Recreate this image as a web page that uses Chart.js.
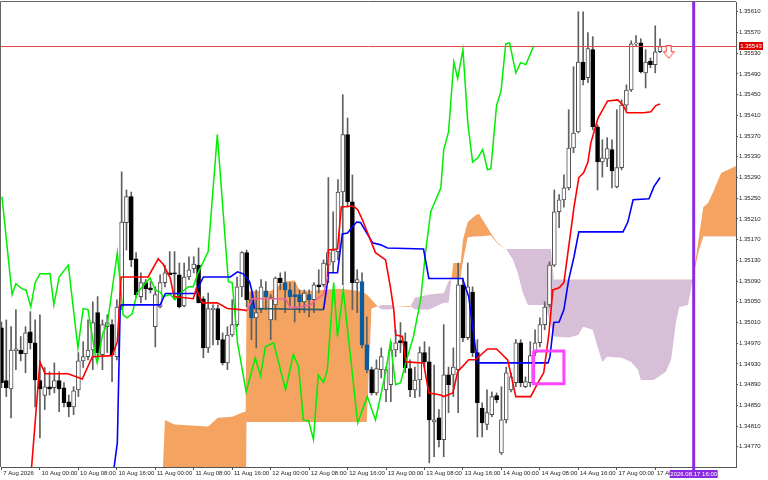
<!DOCTYPE html>
<html>
<head>
<meta charset="utf-8">
<script src="https://cdn.jsdelivr.net/npm/chart.js@4.4.1/dist/chart.umd.min.js"></script>
<style>
  html, body { margin: 0; padding: 0; background: #fff; }
  #wrap { width: 768px; height: 480px; position: relative; }
</style>
</head>
<body>
<div id="wrap"><canvas id="chart"></canvas></div>
<script>
// H1 bars, index 0 = 7 Aug 16:00
const open = [
  1.35000, 1.34898, 1.34882, 1.34955, 1.34957, 1.34950, 1.34992, 1.34971, 1.34898, 1.34869,
  1.34886, 1.34884, 1.34898, 1.34884, 1.34857, 1.34847, 1.34880, 1.34936, 1.34944, 1.34957,
  1.35029, 1.34948, 1.35002, 1.35006, 1.34944, 1.35040, 1.35203, 1.35253, 1.35133, 1.35060,
  1.35087, 1.35077, 1.35002, 1.35040, 1.35087, 1.35106, 1.35106, 1.35102, 1.35042, 1.35098,
  1.35114, 1.35121, 1.35056, 1.34961, 1.35035, 1.35037, 1.34977, 1.34932, 1.34986, 1.35006,
  1.35079, 1.35145, 1.35054, 1.35019, 1.35035, 1.35071, 1.35015, 1.35044, 1.35096, 1.35087,
  1.35073, 1.35064, 1.35064, 1.35050, 1.35064, 1.35054, 1.35083, 1.35083, 1.35121, 1.35127,
  1.35147, 1.35262, 1.35373, 1.35243, 1.35087, 1.35089, 1.34967, 1.34919, 1.34874, 1.34919,
  1.34880, 1.34890, 1.34957, 1.34975, 1.34973, 1.34921, 1.34880, 1.34899, 1.34952, 1.34934,
  1.34818, 1.34826, 1.34784, 1.34909, 1.34909, 1.34919, 1.35083, 1.34981, 1.35069, 1.34952,
  1.34845, 1.34813, 1.34832, 1.34869, 1.34758, 1.34822, 1.34880, 1.34894, 1.34971, 1.34886,
  1.34894, 1.34952, 1.34971, 1.35006, 1.35044, 1.35121, 1.35224, 1.35247, 1.35270, 1.35347,
  1.35378, 1.35513, 1.35483, 1.35537, 1.35388, 1.35320, 1.35326, 1.35344, 1.35272, 1.35309,
  1.35430, 1.35459, 1.35548, 1.35550, 1.35492, 1.35515, 1.35508, 1.35533
]
const high = [
  1.35011, 1.35015, 1.35002, 1.35035, 1.34983, 1.35002, 1.35031, 1.35015, 1.35025, 1.34923,
  1.34915, 1.34932, 1.34915, 1.34894, 1.34870, 1.34886, 1.34952, 1.34973, 1.35015, 1.35050,
  1.35060, 1.35015, 1.35025, 1.35015, 1.35054, 1.35301, 1.35266, 1.35262, 1.35145, 1.35106,
  1.35093, 1.35089, 1.35079, 1.35102, 1.35121, 1.35147, 1.35147, 1.35125, 1.35125, 1.35137,
  1.35137, 1.35154, 1.35060, 1.35067, 1.35044, 1.35044, 1.34990, 1.35002, 1.35054, 1.35098,
  1.35147, 1.35150, 1.35067, 1.35073, 1.35093, 1.35089, 1.35064, 1.35098, 1.35106, 1.35108,
  1.35087, 1.35087, 1.35073, 1.35073, 1.35073, 1.35087, 1.35112, 1.35131, 1.35290, 1.35224,
  1.35286, 1.35450, 1.35405, 1.35295, 1.35112, 1.35106, 1.35021, 1.34924, 1.34938, 1.34961,
  1.34924, 1.34973, 1.34996, 1.35010, 1.34990, 1.34938, 1.34924, 1.34963, 1.34973, 1.34963,
  1.34928, 1.34842, 1.35006, 1.34924, 1.34961, 1.35125, 1.35096, 1.35125, 1.35079, 1.34977,
  1.34855, 1.34880, 1.34876, 1.34874, 1.34886, 1.34924, 1.34913, 1.34977, 1.34977, 1.34905,
  1.34973, 1.34996, 1.35019, 1.35050, 1.35127, 1.35266, 1.35257, 1.35295, 1.35421, 1.35504,
  1.35610, 1.35610, 1.35570, 1.35562, 1.35392, 1.35363, 1.35367, 1.35363, 1.35421, 1.35440,
  1.35469, 1.35554, 1.35564, 1.35558, 1.35537, 1.35521, 1.35583, 1.35558
]
const low = [
  1.34884, 1.34867, 1.34826, 1.34919, 1.34936, 1.34913, 1.34959, 1.34847, 1.34787, 1.34842,
  1.34870, 1.34874, 1.34838, 1.34847, 1.34828, 1.34832, 1.34867, 1.34923, 1.34938, 1.34919,
  1.34938, 1.34919, 1.34952, 1.34896, 1.34938, 1.35035, 1.35150, 1.35118, 1.35058, 1.35048,
  1.35054, 1.35067, 1.34963, 1.35038, 1.35079, 1.35102, 1.35054, 1.35038, 1.35040, 1.35093,
  1.35106, 1.35048, 1.34942, 1.34952, 1.34967, 1.34967, 1.34928, 1.34919, 1.34983, 1.35002,
  1.35060, 1.35040, 1.34977, 1.34961, 1.35029, 1.35035, 1.34977, 1.35015, 1.35073, 1.35029,
  1.35040, 1.35011, 1.35029, 1.35029, 1.35021, 1.35029, 1.35067, 1.35079, 1.35087, 1.35106,
  1.35131, 1.35083, 1.35233, 1.35035, 1.35029, 1.34961, 1.34913, 1.34870, 1.34870, 1.34903,
  1.34857, 1.34857, 1.34944, 1.34952, 1.34913, 1.34867, 1.34865, 1.34867, 1.34924, 1.34739,
  1.34751, 1.34770, 1.34751, 1.34836, 1.34867, 1.34836, 1.34973, 1.34977, 1.34944, 1.34789,
  1.34789, 1.34803, 1.34828, 1.34855, 1.34755, 1.34816, 1.34876, 1.34886, 1.34886, 1.34884,
  1.34886, 1.34946, 1.34963, 1.34996, 1.35040, 1.35118, 1.35193, 1.35233, 1.35266, 1.35338,
  1.35376, 1.35469, 1.35473, 1.35382, 1.35266, 1.35291, 1.35311, 1.35270, 1.35270, 1.35305,
  1.35421, 1.35456, 1.35544, 1.35492, 1.35463, 1.35502, 1.35492, 1.35531
]
const close = [
  1.34894, 1.34884, 1.34957, 1.34959, 1.34950, 1.34990, 1.34971, 1.34899, 1.34882, 1.34886,
  1.34882, 1.34898, 1.34882, 1.34855, 1.34847, 1.34878, 1.34936, 1.34944, 1.34957, 1.35010,
  1.34952, 1.35006, 1.35010, 1.34948, 1.35040, 1.35204, 1.35253, 1.35131, 1.35064, 1.35087,
  1.35075, 1.35073, 1.35064, 1.35087, 1.35106, 1.35102, 1.35104, 1.35040, 1.35098, 1.35112,
  1.35123, 1.35048, 1.34961, 1.35037, 1.35038, 1.34977, 1.34932, 1.34986, 1.35006, 1.35079,
  1.35145, 1.35054, 1.35019, 1.35029, 1.35079, 1.35060, 1.35058, 1.35096, 1.35087, 1.35073,
  1.35060, 1.35060, 1.35050, 1.35067, 1.35054, 1.35083, 1.35079, 1.35125, 1.35145, 1.35150,
  1.35262, 1.35373, 1.35243, 1.35087, 1.35093, 1.34967, 1.34919, 1.34874, 1.34921, 1.34944,
  1.34919, 1.34957, 1.34971, 1.34971, 1.34923, 1.34880, 1.34899, 1.34952, 1.34934, 1.34822,
  1.34822, 1.34784, 1.34909, 1.34890, 1.34924, 1.35083, 1.34981, 1.35079, 1.34952, 1.34855,
  1.34816, 1.34836, 1.34867, 1.34861, 1.34822, 1.34913, 1.34905, 1.34971, 1.34894, 1.34896,
  1.34946, 1.34971, 1.35006, 1.35040, 1.35121, 1.35224, 1.35247, 1.35270, 1.35347, 1.35376,
  1.35513, 1.35479, 1.35539, 1.35388, 1.35320, 1.35328, 1.35346, 1.35303, 1.35309, 1.35430,
  1.35459, 1.35548, 1.35550, 1.35494, 1.35513, 1.35508, 1.35533, 1.35543
]
// bearish bars whose body sits inside the orange cloud (drawn inverted)
const invertedBars = [52, 55, 59, 60, 61, 62, 64, 75, 76]

// Ichimoku lines, vertices (bar index, price)
const tenkanX = [6.0, 8.0, 9.1, 13.85, 16.8, 18.9, 23.0, 24.1, 24.9, 30.5, 32.6, 33.6, 35.1, 35.9, 39.9, 40.5, 41.8, 44.9, 47.0, 49.7, 51.1, 52.2, 55.5, 59.1, 60.1, 64.3, 65.9, 67.0, 67.8, 68.0, 69.9, 70.7, 73.2, 74.1, 75.1, 77.8, 79.9, 80.9, 81.6, 82.0, 83.4, 84.1, 87.8, 88.9, 91.4, 92.0, 93.9, 94.9, 97.2, 98.6, 101.1, 103.0, 105.3, 107.0, 110.1, 111.6, 112.8, 113.9, 114.7, 116.0, 117.0, 119.1, 120.1, 121.1, 122.0, 122.6, 124.1, 126.1, 128.2, 129.3, 130.1, 133.6, 135.1, 136.1, 137.0]
const tenkanY = [1.34700, 1.34934, 1.34911, 1.34911, 1.34901, 1.34944, 1.34946, 1.34973, 1.35098, 1.35098, 1.35133, 1.35123, 1.35096, 1.35060, 1.35056, 1.35075, 1.35048, 1.35048, 1.35037, 1.35035, 1.35033, 1.35056, 1.35056, 1.35056, 1.35038, 1.35044, 1.35058, 1.35064, 1.35098, 1.35150, 1.35152, 1.35233, 1.35235, 1.35228, 1.35208, 1.35145, 1.35131, 1.35079, 1.35035, 1.34986, 1.34983, 1.34934, 1.34932, 1.34874, 1.34870, 1.34867, 1.34874, 1.34915, 1.34938, 1.34938, 1.34959, 1.34959, 1.34938, 1.34867, 1.34867, 1.34894, 1.34913, 1.34990, 1.35073, 1.35077, 1.35087, 1.35233, 1.35290, 1.35299, 1.35320, 1.35357, 1.35405, 1.35438, 1.35440, 1.35430, 1.35415, 1.35415, 1.35417, 1.35429, 1.35432]

const kijunX = [23.0, 24.1, 24.7, 24.9, 33.0, 34.1, 40.3, 42.0, 47.6, 49.1, 50.3, 51.6, 52.2, 52.6, 67.0, 67.8, 68.0, 69.9, 70.9, 72.0, 73.0, 73.9, 74.7, 77.2, 78.9, 80.3, 87.8, 88.9, 95.9, 97.2, 98.6, 99.1, 113.7, 114.1, 114.9, 116.0, 117.0, 118.0, 119.1, 120.1, 129.3, 130.3, 131.4, 134.7, 135.7, 137.0]
const kijunY = [1.34700, 1.34778, 1.35040, 1.35044, 1.35044, 1.35066, 1.35066, 1.35098, 1.35098, 1.35108, 1.35104, 1.35089, 1.35067, 1.35037, 1.35035, 1.35087, 1.35106, 1.35106, 1.35181, 1.35183, 1.35195, 1.35204, 1.35203, 1.35164, 1.35160, 1.35154, 1.35152, 1.35095, 1.35095, 1.35060, 1.34961, 1.34932, 1.34932, 1.34944, 1.35010, 1.35011, 1.35035, 1.35093, 1.35137, 1.35185, 1.35185, 1.35204, 1.35247, 1.35249, 1.35272, 1.35290]

const chikouX = [0.1, 2.2, 3.0, 4.3, 5.1, 6.1, 7.0, 8.0, 10.1, 10.9, 12.0, 13.9, 15.9, 17.0, 18.0, 19.5, 19.9, 21.1, 22.0, 24.1, 25.3, 26.1, 27.2, 28.2, 30.9, 32.0, 33.0, 33.6, 35.1, 36.1, 37.2, 38.9, 39.9, 40.9, 43.0, 44.9, 47.2, 48.0, 49.1, 50.9, 52.8, 53.9, 54.9, 56.6, 59.1, 60.7, 61.8, 62.8, 63.9, 64.9, 65.9, 67.0, 67.8, 69.1, 69.9, 71.1, 74.1, 76.1, 77.8, 79.9, 80.9, 82.0, 83.0, 84.1, 85.7, 87.2, 88.2, 89.3, 91.4, 92.0, 93.0, 94.1, 94.9, 96.0, 97.0, 98.0, 99.1, 100.1, 101.1, 101.8, 103.0, 103.9, 104.9, 105.7, 107.0, 108.0, 109.1, 110.7]
const chikouY = [1.35253, 1.35064, 1.35085, 1.35075, 1.35073, 1.35040, 1.35087, 1.35104, 1.35104, 1.35044, 1.35098, 1.35121, 1.34961, 1.35037, 1.35035, 1.34948, 1.34932, 1.34990, 1.35006, 1.35145, 1.35025, 1.35019, 1.35027, 1.35067, 1.35096, 1.35073, 1.35069, 1.35060, 1.35064, 1.35054, 1.35067, 1.35079, 1.35079, 1.35106, 1.35147, 1.35373, 1.35089, 1.35087, 1.34971, 1.34876, 1.34942, 1.34907, 1.34963, 1.34971, 1.34880, 1.34948, 1.34925, 1.34822, 1.34820, 1.34784, 1.34909, 1.34894, 1.34919, 1.35087, 1.34983, 1.35073, 1.34816, 1.34867, 1.34822, 1.34913, 1.34971, 1.34890, 1.34894, 1.34932, 1.34983, 1.35054, 1.35145, 1.35224, 1.35270, 1.35344, 1.35378, 1.35513, 1.35481, 1.35537, 1.35396, 1.35320, 1.35328, 1.35344, 1.35305, 1.35307, 1.35430, 1.35456, 1.35548, 1.35550, 1.35492, 1.35512, 1.35508, 1.35544]

// Kumo: Senkou A and B on the same bar positions
const cloudX = [33, 34, 36, 43, 45, 48, 50, 50.8, 51, 52, 56, 58, 59, 61, 62, 64, 70, 73, 75, 76, 77, 78, 79, 81, 82, 85, 86, 89, 92, 93, 94, 95.5, 96, 97, 98.5, 99.3, 101.8, 103.2, 105, 106.4, 107.4, 108.4, 109.5, 113, 114.3, 114.9, 118, 120, 121, 123, 124, 125, 126, 129, 131, 132.4, 133, 135.7, 138.2, 139.3, 140.3, 141, 142.8, 143.4, 143.8, 145, 146, 147, 148, 149.7, 153]
const spanA = [1.34600, 1.34822, 1.34813, 1.34809, 1.34826, 1.34828, 1.34836, 1.34838, 1.35069, 1.35071, 1.35071, 1.35083, 1.35089, 1.35091, 1.35073, 1.35071, 1.35075, 1.35073, 1.35069, 1.35064, 1.35054, 1.35044, 1.35035, 1.35035, 1.35040, 1.35042, 1.35035, 1.35035, 1.35048, 1.35048, 1.35125, 1.35125, 1.35170, 1.35204, 1.35216, 1.35220, 1.35183, 1.35164, 1.35152, 1.35131, 1.35106, 1.35069, 1.35044, 1.35044, 1.35006, 1.34983, 1.34981, 1.34986, 1.35002, 1.34996, 1.34963, 1.34934, 1.34944, 1.34942, 1.34934, 1.34919, 1.34899, 1.34899, 1.34915, 1.34938, 1.35010, 1.35040, 1.35044, 1.35073, 1.35093, 1.35170, 1.35233, 1.35241, 1.35261, 1.35299, 1.35313]
const spanB = [1.34600, 1.34600, 1.34600, 1.34600, 1.34600, 1.34600, 1.34600, 1.34600, 1.34818, 1.34818, 1.34818, 1.34818, 1.34818, 1.34818, 1.34818, 1.34818, 1.34818, 1.34818, 1.34818, 1.34818, 1.35037, 1.35040, 1.35044, 1.35044, 1.35040, 1.35040, 1.35058, 1.35064, 1.35067, 1.35089, 1.35095, 1.35096, 1.35127, 1.35174, 1.35176, 1.35176, 1.35178, 1.35162, 1.35152, 1.35152, 1.35152, 1.35152, 1.35152, 1.35152, 1.35152, 1.35093, 1.35093, 1.35093, 1.35093, 1.35093, 1.35093, 1.35093, 1.35093, 1.35093, 1.35093, 1.35093, 1.35093, 1.35093, 1.35093, 1.35093, 1.35093, 1.35093, 1.35093, 1.35093, 1.35093, 1.35145, 1.35176, 1.35176, 1.35176, 1.35176, 1.35176]

// other marks
const bidPrice = 1.35543
const boxX = [110.7, 117.0, 117.0, 110.7, 110.7]
const boxY = [1.34955, 1.34955, 1.34892, 1.34892, 1.34955]
const arrowX = [138.8]
const arrowY = [1.35532]
const markerBar = 144
const markerLabel = '2026.08.17 16:00'

// axes
const xTickPos = [0, 8, 16, 24, 32, 40, 48, 56, 64, 72, 80, 88, 96, 104, 112, 120, 128, 136]
const xTickLabels = ['7 Aug 2026', '10 Aug 00:00', '10 Aug 08:00', '10 Aug 16:00', '11 Aug 00:00', '11 Aug 08:00', '11 Aug 16:00',
  '12 Aug 00:00', '12 Aug 08:00', '12 Aug 16:00', '13 Aug 00:00', '13 Aug 08:00', '13 Aug 16:00',
  '14 Aug 00:00', '14 Aug 08:00', '14 Aug 16:00', '17 Aug 00:00', '17 Aug 08:00']
const yTicks = [1.34770, 1.34810, 1.34850, 1.34890, 1.34930, 1.34970, 1.35010, 1.35050, 1.35090, 1.35130, 1.35170,
  1.35210, 1.35250, 1.35290, 1.35330, 1.35370, 1.35410, 1.35450, 1.35490, 1.35530, 1.35570, 1.35610]
const xMin = -0.1, xMax = 152.8
const yMin = 1.34731, yMax = 1.35629

const FONT = 'Liberation Sans'
Chart.defaults.font.family = FONT

const toPoints = (xs, ys) => xs.map((x, i) => ({ x, y: ys[i] }))
const isBull = i => close[i] >= open[i]

function makeArrow() {
    const c = document.createElement('canvas')
    c.width = 12
    c.height = 14
    const g = c.getContext('2d')
    g.beginPath()
    g.moveTo(3.5, 0.5); g.lineTo(8.5, 0.5); g.lineTo(8.5, 6.5); g.lineTo(11.5, 6.5)
    g.lineTo(6, 13); g.lineTo(0.5, 6.5); g.lineTo(3.5, 6.5); g.closePath()
    g.fillStyle = '#fff'
    g.fill()
    g.strokeStyle = '#ff3b3b'
    g.lineWidth = 1
    g.stroke()
    return c
}

const overlay = {
    id: 'overlay',
    afterDatasetsDraw(chart) {
        const { ctx, chartArea: a, scales: { x } } = chart
        const vx = x.getPixelForValue(markerBar)
        ctx.save()
        ctx.strokeStyle = '#8a2be2'
        ctx.lineWidth = 3
        ctx.beginPath()
        ctx.moveTo(vx, a.top)
        ctx.lineTo(vx, a.bottom + 3)
        ctx.stroke()
        ctx.restore()
    },
    afterDraw(chart) {
        const { ctx, chartArea: a, scales: { x, y } } = chart
        ctx.save()
        // frame
        ctx.strokeStyle = '#666'
        ctx.lineWidth = 1
        ctx.beginPath()
        ctx.moveTo(a.left - 0.5, a.bottom)
        ctx.lineTo(a.left - 0.5, a.top - 0.5)
        ctx.lineTo(a.right, a.top - 0.5)
        ctx.stroke()
        ctx.font = '6px "' + FONT + '"'
        ctx.textBaseline = 'middle'
        ctx.textAlign = 'center'
        // bid price tag
        const py = y.getPixelForValue(bidPrice)
        ctx.fillStyle = '#dd0000'
        ctx.fillRect(a.right + 3, Math.round(py) - 5, 24, 8)
        ctx.fillStyle = '#fff'
        ctx.fillText(bidPrice.toFixed(5), a.right + 15, Math.round(py) - 1)
        // time tag under the marker line
        const vx = x.getPixelForValue(markerBar)
        ctx.fillStyle = '#8a2be2'
        ctx.fillRect(vx - 24, a.bottom + 3, 48, 8)
        ctx.fillStyle = '#fff'
        ctx.fillText(markerLabel, vx, a.bottom + 7)
        ctx.restore()
    }
}

const lineBase = { type: 'line', pointRadius: 0, fill: false, tension: 0 }

new Chart(document.getElementById('chart'), {
    type: 'bar',
    data: {
        datasets: [
            { ...lineBase, data: toPoints(cloudX, spanA), borderWidth: 0, borderColor: 'rgba(0,0,0,0)',
              fill: { target: '+1', above: '#f4a460', below: '#d8bfd8' }, order: 20 },
            { ...lineBase, data: toPoints(cloudX, spanB), borderWidth: 0, borderColor: 'rgba(0,0,0,0)', order: 21 },
            {
                type: 'bar', grouped: false, order: 11,
                data: open.map((o, i) => ({ x: i, y: [low[i], high[i]] })),
                barThickness: 1, backgroundColor: '#5f5f5f', borderWidth: 0
            },
            {
                type: 'bar', grouped: false, order: 10,
                data: open.map((o, i) => ({ x: i, y: [o, close[i]] })),
                barThickness: 4, minBarLength: 1, borderWidth: 1, borderSkipped: false,
                backgroundColor: c => isBull(c.dataIndex) ? '#ffffff' : (invertedBars.includes(c.dataIndex) ? '#0b5b9f' : '#000000'),
                borderColor: c => isBull(c.dataIndex) ? '#4d4d4d' : (invertedBars.includes(c.dataIndex) ? '#0b5b9f' : '#000000')
            },
            { ...lineBase, data: toPoints([xMin, xMax], [bidPrice, bidPrice]), borderColor: '#e84545', borderWidth: 1, order: 6 },
            { ...lineBase, data: toPoints(chikouX, chikouY), borderColor: '#00ee00', borderWidth: 1.5, order: 4 },
            {
                ...lineBase, data: toPoints(kijunX, kijunY), borderColor: '#0000ff', borderWidth: 1.6, order: 3,
                segment: { borderColor: s => (s.p0.parsed.x >= 52.5 && s.p1.parsed.x <= 67.1) ? '#2f5f68' : undefined }
            },
            {
                ...lineBase, data: toPoints(tenkanX, tenkanY), borderColor: '#ff0000', borderWidth: 1.6, order: 2,
                segment: { borderColor: s => (s.p0.parsed.x >= 51 && s.p1.parsed.x <= 67.9) ? '#f0649e' : undefined }
            },
            { ...lineBase, data: toPoints(boxX, boxY), borderColor: '#ff44ff', borderWidth: 3, order: 1 },
            { ...lineBase, data: toPoints(arrowX, arrowY), showLine: false, pointRadius: 6, pointStyle: makeArrow(), order: 0 }
        ]
    },
    options: {
        responsive: true,
        maintainAspectRatio: false,
        animation: false,
        layout: { autoPadding: false, padding: { top: 2, left: 1, right: 0, bottom: 0 } },
        plugins: { legend: { display: false }, tooltip: { enabled: false } },
        scales: {
            x: {
                type: 'linear', min: xMin, max: xMax, offset: false,
                afterBuildTicks: s => { s.ticks = xTickPos.map(v => ({ value: v })) },
                afterFit: s => { s.height = 13; s.paddingLeft = 0; s.paddingRight = 0 },
                grid: { drawOnChartArea: false, tickLength: 3, color: '#555', offset: false },
                border: { color: '#555' },
                ticks: {
                    autoSkip: false, maxRotation: 0, minRotation: 0, align: 'start', padding: 0,
                    color: '#222', font: { size: 6 },
                    callback: v => ' ' + (xTickLabels[xTickPos.indexOf(v)] || '')
                }
            },
            y: {
                type: 'linear', position: 'right', min: yMin, max: yMax,
                afterBuildTicks: s => { s.ticks = yTicks.map(v => ({ value: v })) },
                afterFit: s => { s.width = 32; s.paddingTop = 0; s.paddingBottom = 0 },
                grid: { drawOnChartArea: false, tickLength: 2, color: '#555' },
                border: { color: '#555' },
                ticks: { padding: 1, color: '#222', font: { size: 6 }, callback: v => v.toFixed(5) }
            }
        }
    },
    plugins: [overlay]
})
</script>
</body>
</html>
